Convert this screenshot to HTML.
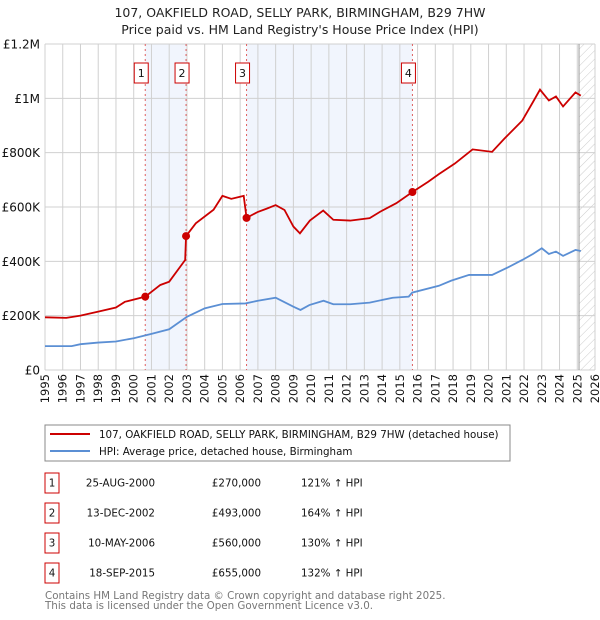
<!DOCTYPE html>
<html><head><meta charset="utf-8">
<style>
body{margin:0;background:#fff;font-family:"DejaVu Sans","Liberation Sans",sans-serif;}
svg{display:block}
</style></head>
<body>
<svg id="chart" width="600" height="620" xmlns="http://www.w3.org/2000/svg">
<defs>
<pattern id="hatch" width="6" height="6" patternUnits="userSpaceOnUse" patternTransform="rotate(45)">
<line x1="0" y1="0" x2="0" y2="6" stroke="#ccc" stroke-width="1"/>
</pattern>
</defs>
<text x="300" y="17" text-anchor="middle" font-size="12.5" fill="#222">107, OAKFIELD ROAD, SELLY PARK, BIRMINGHAM, B29 7HW</text>
<text x="300" y="34" text-anchor="middle" font-size="12.5" fill="#222">Price paid vs. HM Land Registry's House Price Index (HPI)</text>
<g id="plot"></g>
<g>
<rect x="45" y="425" width="465" height="36" fill="#fff" stroke="#888"/>
<line x1="50" y1="434" x2="90" y2="434" stroke="#cc0000" stroke-width="2"/>
<text x="99" y="438" font-size="10.3" fill="#111">107, OAKFIELD ROAD, SELLY PARK, BIRMINGHAM, B29 7HW (detached house)</text>
<line x1="50" y1="451" x2="90" y2="451" stroke="#5b8fd4" stroke-width="2"/>
<text x="99" y="455" font-size="10.3" fill="#111">HPI: Average price, detached house, Birmingham</text>
</g>
<g id="table" font-size="10.3" fill="#111"></g>
<text x="45" y="599" font-size="10.3" fill="#777">Contains HM Land Registry data © Crown copyright and database right 2025.</text>
<text x="45" y="609" font-size="10.3" fill="#777">This data is licensed under the Open Government Licence v3.0.</text>
</svg>
<script>
const redYears=[1995,1996.2,1997,1998,1999,1999.5,2000.65,2001.5,2002,2002.9,2002.95,2003.5,2004.5,2005,2005.5,2006.2,2006.36,2007,2007.5,2008,2008.5,2009,2009.37,2009.93,2010.68,2011.25,2012.2,2013.3,2013.9,2014.8,2015.71,2016.6,2017.2,2018.1,2019.1,2020.2,2020.9,2021.9,2022.5,2022.9,2023.4,2023.8,2024.2,2024.9,2025.2];
const redValues=[194,192,200,215,230,251,270,313,325,405,493,540,590,641,630,641,560,582,594,607,589,528,503,550,587,553,550,559,583,614,655,693,721,760,812,803,852,918,986,1032,992,1007,970,1022,1010];
const hpiYears=[1995,1996.5,1997,1998,1999,2000,2001,2002,2003,2004,2005,2006.3,2007,2008,2009,2009.4,2009.9,2010.7,2011.25,2012.2,2013.3,2014.6,2015.5,2015.7,2017.2,2017.9,2018.9,2020.2,2021.1,2021.9,2022.5,2023,2023.4,2023.8,2024.2,2024.9,2025.2];
const hpiValues=[88,88,95,101,105,117,133,150,196,227,243,245,255,266,233,221,239,255,242,242,248,266,270,285,310,329,350,350,378,405,427,448,427,436,420,442,438];
const saleLabels=["1","2","3","4"];
const saleYears=[2000.65,2002.95,2006.36,2015.71];
const salePrices=[270,493,560,655];
const saleDates=["25-AUG-2000","13-DEC-2002","10-MAY-2006","18-SEP-2015"];
const salePriceText=["£270,000","£493,000","£560,000","£655,000"];
const salePct=["121% ↑ HPI","164% ↑ HPI","130% ↑ HPI","132% ↑ HPI"];
const yTicks=[0,200,400,600,800,1000,1200];
const yTickLabels=["£0","£200K","£400K","£600K","£800K","£1M","£1.2M"];
const xTicks=[1995,1996,1997,1998,1999,2000,2001,2002,2003,2004,2005,2006,2007,2008,2009,2010,2011,2012,2013,2014,2015,2016,2017,2018,2019,2020,2021,2022,2023,2024,2025,2026];

const X0=45,X1=595,Y0=370,Y1=44;
const xs=y=>X0+(y-1995)/(2026-1995)*(X1-X0);
const ys=v=>Y0-v/1200*(Y0-Y1);
const NS="http://www.w3.org/2000/svg";
const plot=document.getElementById('plot');
function mk(tag,attrs,parent){const e=document.createElementNS(NS,tag);for(const k in attrs)e.setAttribute(k,attrs[k]);(parent||plot).appendChild(e);return e;}

for(const [a,b] of [[0,1],[2,3]]){
  const r=mk('rect',{x:xs(saleYears[a]),y:Y1,width:xs(saleYears[b])-xs(saleYears[a]),height:Y0-Y1,fill:'#eef2fc',opacity:0.8});
  
  
}
const hx=xs(2025.1);
const h=mk('rect',{x:hx,y:Y1,width:X1-hx,height:Y0-Y1,fill:'url(#hatch)'});


xTicks.forEach(t=>{
  const l=mk('line',{x1:xs(t),y1:Y1,x2:xs(t),y2:Y0,stroke:'#d0d0d0','stroke-width':1});
  
  
  const tx=mk('text',{x:0,y:0,'text-anchor':'end','font-size':11.5,fill:'#111',transform:'translate('+(xs(t)+4)+','+(Y0+4)+') rotate(-90)'});
  tx.textContent=t;
  
  
});
yTicks.forEach((t,i)=>{
  const l=mk('line',{x1:X0,y1:ys(t),x2:X1,y2:ys(t),stroke:'#d0d0d0','stroke-width':1});
  
  
  const tx=mk('text',{x:X0-5,y:ys(t)+4.5,'text-anchor':'end','font-size':12,fill:'#111'});
  tx.textContent=yTickLabels[i];
  
  
});
const nl=mk('line',{x1:hx,y1:Y1,x2:hx,y2:Y0,stroke:'#999','stroke-width':1});


saleYears.forEach((y,i)=>{
  const l=mk('line',{x1:xs(y),y1:Y1,x2:xs(y),y2:Y0,stroke:'#e06060','stroke-width':1,'stroke-dasharray':'2,3'});
  
  
  const r=mk('rect',{x:xs(y)-11,y:63,width:14,height:20,fill:'#fff',stroke:'#cc0000','stroke-width':1});
  
  
  const t=mk('text',{x:xs(y)-4,y:77,'text-anchor':'middle','font-size':11,fill:'#111'});
  t.textContent=saleLabels[i];
  
  
});
const hp=mk('polyline',{points:hpiYears.map((y,i)=>xs(y)+','+ys(hpiValues[i])).join(' '),fill:'none',stroke:'#5b8fd4','stroke-width':1.8});


const rp=mk('polyline',{points:redYears.map((y,i)=>xs(y)+','+ys(redValues[i])).join(' '),fill:'none',stroke:'#cc0000','stroke-width':1.8});


saleYears.forEach((y,i)=>{
  const c=mk('circle',{cx:xs(y),cy:ys(salePrices[i]),r:4,fill:'#cc0000'});
  
  
});
const tb=document.getElementById('table');
saleLabels.forEach((s,i)=>{
  const cy=483+i*30;
  const r=mk('rect',{x:45,y:cy-10,width:14,height:20,fill:'#fff',stroke:'#cc0000','stroke-width':1},tb);
  
  
  const t=mk('text',{x:52,y:cy+3.5,'text-anchor':'middle'},tb);t.textContent=s;
  
  
  const d=mk('text',{x:155,y:cy+3.5,'text-anchor':'end'},tb);d.textContent=saleDates[i];
  
  
  const p=mk('text',{x:261,y:cy+3.5,'text-anchor':'end'},tb);p.textContent=salePriceText[i];
  
  
  const q=mk('text',{x:301,y:cy+3.5},tb);q.textContent=salePct[i];
  
  
});
</script>
</body></html>
